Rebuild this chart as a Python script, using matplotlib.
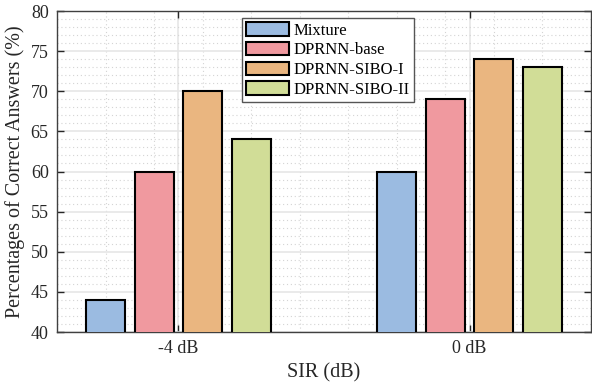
import numpy as np
import matplotlib.pyplot as plt
from matplotlib.ticker import MultipleLocator, FixedLocator

plt.rcParams['font.family'] = ['Liberation Serif', 'DejaVu Serif']

#bar positions (1-4 for -4 dB, 7-10 for 0 dB)
groups = ['-4 dB', '0 dB']
methods = ['Mixture', 'DPRNN-base', 'DPRNN-SIBO-I', 'DPRNN-SIBO-II']
mixture = [44, 60]
dprnn_base = [60, 69]
sibo_1 = [70, 74]
sibo_2 = [64, 73]
colors = ['#9bbbe1', '#f0999f', '#eab680', '#d1dd97']

fig = plt.figure(figsize=(5.92, 3.88), dpi=100)
ax = fig.add_axes([0.0963, 0.1443, 0.9020, 0.8273])

allVals = [mixture, dprnn_base, sibo_1, sibo_2]
for i in range(4):
    pos = [1 + i, 7 + i]
    ax.bar(pos, allVals[i], width=0.8, bottom=0, color=colors[i], edgecolor='black',
           linewidth=1.5, label=methods[i], zorder=3)

ax.set_xlim(0, 11)
ax.set_ylim(40, 80)
ax.set_xticks([2.5, 8.5])
ax.set_xticklabels(groups)
ax.xaxis.set_minor_locator(FixedLocator(range(1, 11)))
ax.yaxis.set_major_locator(MultipleLocator(5))
ax.yaxis.set_minor_locator(MultipleLocator(1))

ax.grid(which='major', color='#e6e6e6', linewidth=1.2, zorder=0)
ax.grid(which='minor', color='#d4d4d4', linestyle=(0, (1, 2.5)), linewidth=0.8, zorder=0)
ax.set_axisbelow(True)

ax.tick_params(which='major', direction='in', length=5, width=1, top=True, right=True,
               labelsize=13, colors='#262626', pad=6)
ax.tick_params(which='minor', length=0)
for s in ax.spines.values():
    s.set_color('#404040')
    s.set_linewidth(1)

ax.set_xlabel('SIR (dB)', fontsize=14.5, color='#262626', labelpad=4)
ax.set_ylabel('Percentages of Correct Answers (%)', fontsize=14.5, color='#262626', labelpad=4)

leg = ax.legend(loc='upper left', bbox_to_anchor=(0.346, 0.978), borderaxespad=0,
                fontsize=12, handlelength=2.6, handleheight=0.85, handletextpad=0.25,
                labelspacing=0.2, borderpad=0.25, fancybox=False, framealpha=1)
leg.get_frame().set_edgecolor('#555555')
leg.get_frame().set_linewidth(1)

plt.savefig('out.png', dpi=100)
